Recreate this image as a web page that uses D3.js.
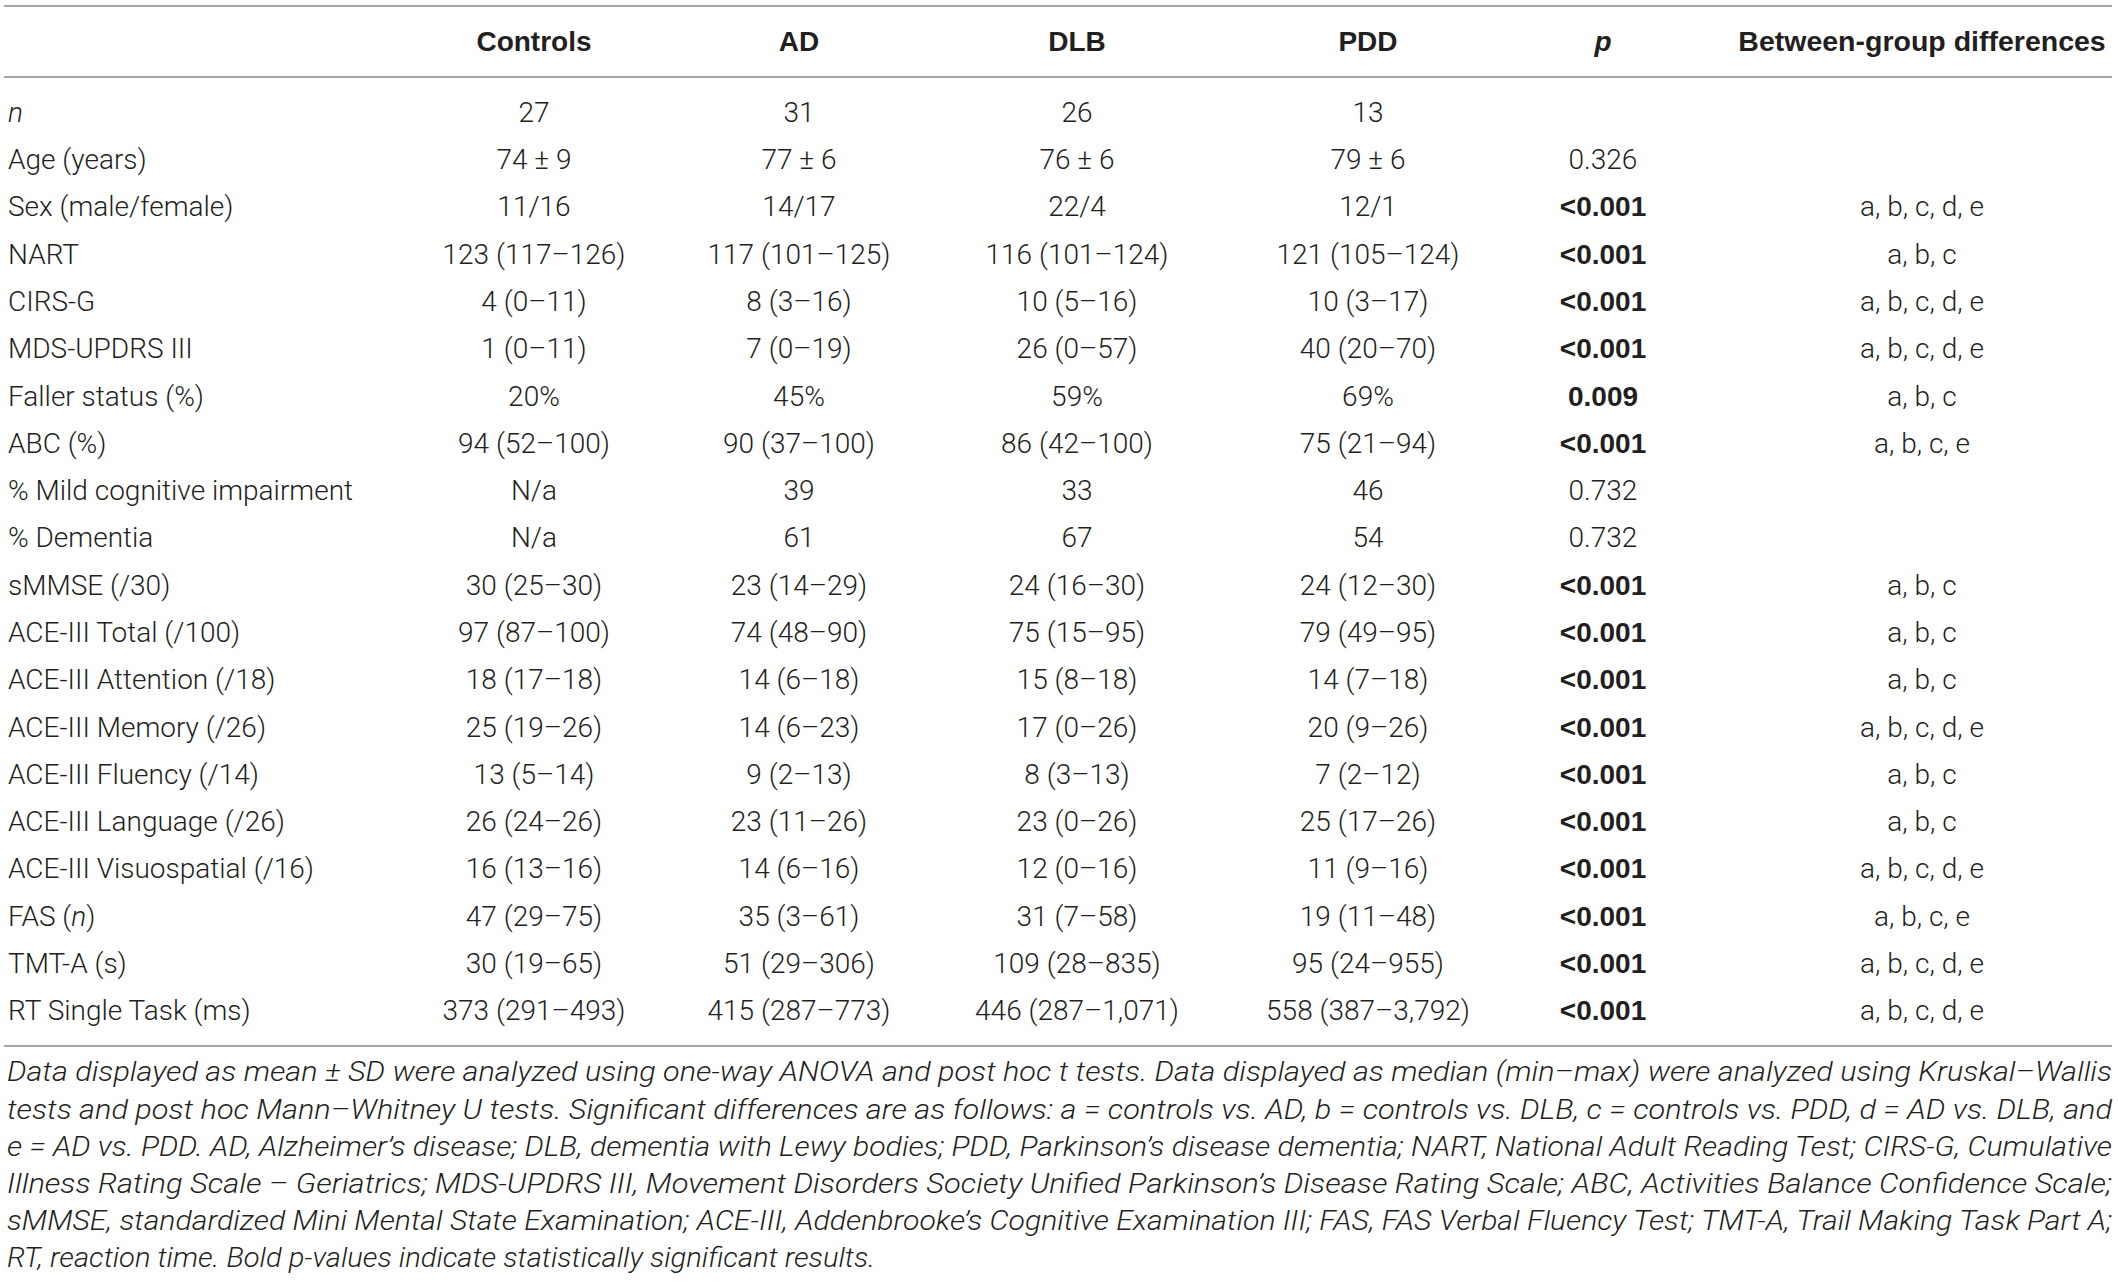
<!DOCTYPE html>
<html>
<head>
<meta charset="utf-8">
<script src="https://cdn.jsdelivr.net/npm/d3@7"></script>
<style>
  body { margin: 0; background: #fff; }
  svg { display: block; }
</style>
</head>
<body>
<svg width="2118" height="1282"></svg>
<script>
// table content
var groups = ["Controls", "AD", "DLB", "PDD"];

var rowLabels = [
  "*n*", "Age (years)", "Sex (male/female)", "NART", "CIRS-G", "MDS-UPDRS III",
  "Faller status (%)", "ABC (%)", "% Mild cognitive impairment", "% Dementia",
  "sMMSE (/30)", "ACE-III Total (/100)", "ACE-III Attention (/18)",
  "ACE-III Memory (/26)", "ACE-III Fluency (/14)", "ACE-III Language (/26)",
  "ACE-III Visuospatial (/16)", "FAS (*n*)", "TMT-A (s)", "RT Single Task (ms)"
];

var controls = ["27", "74 ± 9", "11/16", "123 (117–126)", "4 (0–11)", "1 (0–11)", "20%",
  "94 (52–100)", "N/a", "N/a", "30 (25–30)", "97 (87–100)", "18 (17–18)", "25 (19–26)",
  "13 (5–14)", "26 (24–26)", "16 (13–16)", "47 (29–75)", "30 (19–65)", "373 (291–493)"];
var ad = ["31", "77 ± 6", "14/17", "117 (101–125)", "8 (3–16)", "7 (0–19)", "45%",
  "90 (37–100)", "39", "61", "23 (14–29)", "74 (48–90)", "14 (6–18)", "14 (6–23)",
  "9 (2–13)", "23 (11–26)", "14 (6–16)", "35 (3–61)", "51 (29–306)", "415 (287–773)"];
var dlb = ["26", "76 ± 6", "22/4", "116 (101–124)", "10 (5–16)", "26 (0–57)", "59%",
  "86 (42–100)", "33", "67", "24 (16–30)", "75 (15–95)", "15 (8–18)", "17 (0–26)",
  "8 (3–13)", "23 (0–26)", "12 (0–16)", "31 (7–58)", "109 (28–835)", "446 (287–1,071)"];
var pdd = ["13", "79 ± 6", "12/1", "121 (105–124)", "10 (3–17)", "40 (20–70)", "69%",
  "75 (21–94)", "46", "54", "24 (12–30)", "79 (49–95)", "14 (7–18)", "20 (9–26)",
  "7 (2–12)", "25 (17–26)", "11 (9–16)", "19 (11–48)", "95 (24–955)", "558 (387–3,792)"];

var pValues = ["", "0.326", "<0.001", "<0.001", "<0.001", "<0.001", "0.009", "<0.001",
  "0.732", "0.732", "<0.001", "<0.001", "<0.001", "<0.001", "<0.001", "<0.001",
  "<0.001", "<0.001", "<0.001", "<0.001"];

var differences = ["", "", "a, b, c, d, e", "a, b, c", "a, b, c, d, e", "a, b, c, d, e",
  "a, b, c", "a, b, c, e", "", "", "a, b, c", "a, b, c", "a, b, c", "a, b, c, d, e",
  "a, b, c", "a, b, c", "a, b, c, d, e", "a, b, c, e", "a, b, c, d, e", "a, b, c, d, e"];

var footnote = [
  "Data displayed as mean ± SD were analyzed using one-way ANOVA and post hoc t tests. Data displayed as median (min–max) were analyzed using Kruskal–Wallis",
  "tests and post hoc Mann–Whitney U tests. Significant differences are as follows: a = controls vs. AD, b = controls vs. DLB, c = controls vs. PDD, d = AD vs. DLB, and",
  "e = AD vs. PDD. AD, Alzheimer’s disease; DLB, dementia with Lewy bodies; PDD, Parkinson’s disease dementia; NART, National Adult Reading Test; CIRS-G, Cumulative",
  "Illness Rating Scale – Geriatrics; MDS-UPDRS III, Movement Disorders Society Unified Parkinson’s Disease Rating Scale; ABC, Activities Balance Confidence Scale;",
  "sMMSE, standardized Mini Mental State Examination; ACE-III, Addenbrooke’s Cognitive Examination III; FAS, FAS Verbal Fluency Test; TMT-A, Trail Making Task Part A;",
  "RT, reaction time. Bold p-values indicate statistically significant results."
];

var svg = d3.select("svg"),
  width = +svg.attr("width"),
  ink = "#231f20",
  ruleColor = "#a6a6a6",
  bodyFont = "Roboto, 'Liberation Sans', sans-serif",
  headFont = "'Liberation Sans', Arial, sans-serif";

svg.append("rect").attr("width", width).attr("height", svg.attr("height")).attr("fill", "#fff");

var columns = ["label"].concat(groups, ["p", "diff"]);
var columnData = { Controls: controls, AD: ad, DLB: dlb, PDD: pdd, p: pValues, diff: differences };

var x = d3.scaleOrdinal()
  .domain(columns)
  .range([8, 534, 799, 1077, 1368, 1603, 1922]);

var y = d3.scaleBand()
  .domain(d3.range(rowLabels.length))
  .range([88.5, 1034]);

// rules
[6, 77, 1046].forEach(function (yy) {
  svg.append("line")
    .attr("x1", 4).attr("x2", 2112)
    .attr("y1", yy).attr("y2", yy)
    .style("stroke", ruleColor)
    .style("stroke-width", 2);
});

// column headers
var headers = [["Controls", "Controls"], ["AD", "AD"], ["DLB", "DLB"], ["PDD", "PDD"], ["p", "p"], ["diff", "Between-group differences"]];
svg.append("g")
  .selectAll("text")
  .data(headers)
  .enter()
  .append("text")
  .attr("x", function (d) { return x(d[0]); })
  .attr("y", 41)
  .attr("dy", "0.35em")
  .attr("text-anchor", "middle")
  .style("font-family", headFont)
  .style("font-weight", "bold")
  .style("font-style", function (d) { return d[0] == "p" ? "italic" : "normal"; })
  .style("font-size", function (d) { return d[0] == "diff" ? "28.5px" : "28px"; })
  .style("fill", ink)
  .text(function (d) { return d[1]; });

// row labels, *...* marks italic parts
var labels = svg.append("g")
  .selectAll("text")
  .data(rowLabels)
  .enter()
  .append("text")
  .attr("x", x("label"))
  .attr("y", function (d, i) { return y(i) + y.bandwidth() / 2; })
  .attr("dy", "0.35em")
  .style("font-family", bodyFont)
  .style("font-weight", 300)
  .style("font-size", "28px")
  .style("fill", ink);

labels.each(function (d) {
  var t = d3.select(this);
  d.split("*").forEach(function (part, k) {
    if (part === "") return;
    t.append("tspan")
      .style("font-style", k % 2 ? "italic" : "normal")
      .text(part);
  });
});

// body cells
function significant(col, d) {
  return col == "p" && parseFloat(d.replace("<", "")) < 0.05;
}

columns.slice(1).forEach(function (col) {
  svg.append("g")
    .selectAll("text")
    .data(columnData[col])
    .enter()
    .append("text")
    .attr("x", x(col))
    .attr("y", function (d, i) { return y(i) + y.bandwidth() / 2; })
    .attr("dy", "0.35em")
    .attr("text-anchor", "middle")
    .style("font-family", function (d) { return significant(col, d) ? headFont : bodyFont; })
    .style("font-weight", function (d) { return significant(col, d) ? "bold" : 300; })
    .style("font-size", "28px")
    .style("fill", ink)
    .text(function (d) { return d; });
});

// footnote, justified to the table width
var fy = d3.scaleLinear().domain([0, footnote.length - 1]).range([1072, 1258]);
svg.append("g")
  .selectAll("text")
  .data(footnote)
  .enter()
  .append("text")
  .attr("x", 7)
  .attr("y", function (d, i) { return fy(i); })
  .attr("dy", "0.35em")
  .attr("textLength", function (d, i) { return i < footnote.length - 1 ? 2105 : 868; })
  .attr("lengthAdjust", "spacingAndGlyphs")
  .style("font-family", bodyFont)
  .style("font-weight", 300)
  .style("font-style", "italic")
  .style("font-size", "27px")
  .style("fill", ink)
  .text(function (d) { return d; });
</script>
</body>
</html>
